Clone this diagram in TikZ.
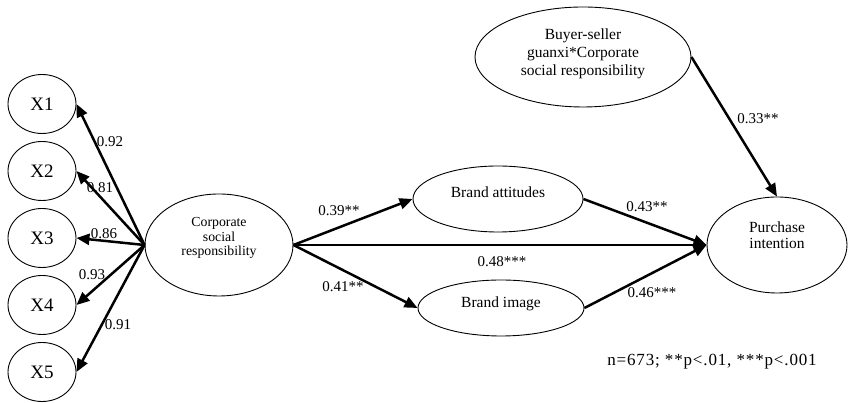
\documentclass[tikz,border=0pt]{standalone}
\usepackage{fontspec}
\setmainfont{Liberation Serif}
\newfontfamily\notefont[LetterSpace=5]{Liberation Serif}
\usetikzlibrary{arrows.meta,shapes.geometric}
\begin{document}
\begin{tikzpicture}[x=1pt,y=1pt,
  oval/.style={draw,ellipse,line width=0.9pt,inner sep=0pt},
  txt/.style={align=center,font=\fontsize{15.5}{17}\selectfont,inner sep=0pt},
  xtxt/.style={font=\fontsize{19}{20}\selectfont,inner sep=0pt},
  lbl/.style={font=\fontsize{15}{17}\selectfont,inner sep=0pt},
  path/.style={line width=2.5pt,-{Triangle[length=13pt,width=11pt]}}]
\useasboundingbox (0,0) rectangle (849,403);
% indicator ellipses
\node[oval,minimum width=68pt,minimum height=59pt] (x1) at (42,299) {};
\node[oval,minimum width=68pt,minimum height=59pt] (x2) at (42,232) {};
\node[oval,minimum width=68pt,minimum height=59pt] (x3) at (42,165) {};
\node[oval,minimum width=68pt,minimum height=59pt] (x4) at (42,98) {};
\node[oval,minimum width=68pt,minimum height=59pt] (x5) at (42,31) {};
\node[xtxt] (x1t) at (x1.center) {X1};
\node[xtxt] (x2t) at (x2.center) {X2};
\node[xtxt] (x3t) at (x3.center) {X3};
\node[xtxt] (x4t) at (x4.center) {X4};
\node[xtxt] (x5t) at (x5.center) {X5};
% latent ellipses
\node[oval,minimum width=148pt,minimum height=102pt] (csr) at (219,158) {};
\node[txt,font=\fontsize{13.8}{14.6}\selectfont] (csrt) at ([yshift=7pt]csr.center) {Corporate\\social\\responsibility};
\node[oval,minimum width=170pt,minimum height=66pt] (ba) at (498,204) {};
\node[txt] (bat) at ([yshift=7pt]ba.center) {Brand attitudes};
\node[oval,minimum width=166pt,minimum height=56pt] (bi) at (501,95) {};
\node[txt] (bit) at ([yshift=4pt]bi.center) {Brand image};
\node[oval,minimum width=140pt,minimum height=96pt] (pi) at (777,158) {};
\node[txt,font=\fontsize{15.5}{16.5}\selectfont] (pit) at ([yshift=10pt]pi.center) {Purchase\\intention};
\node[oval,minimum width=216pt,minimum height=100pt] (bs) at (583,346) {};
\node[txt,font=\fontsize{15.5}{18}\selectfont] (bst) at ([yshift=3pt]bs.center) {Buyer-seller\\guanxi*Corporate\\social responsibility};
% paths
\draw[path] (csr.west) -- (x1.east);
\draw[path] (csr.west) -- (x2.east);
\draw[path] (csr.west) -- (x3.east);
\draw[path] (csr.west) -- (x4.east);
\draw[path] (csr.west) -- (x5.east);
\draw[path] (csr.east) -- (ba.west);
\draw[path] (csr.east) -- (pi.west);
\draw[path] (csr.east) -- (bi.west);
\draw[path] (ba.east) -- (pi.west);
\draw[path] (bi.east) -- (pi.west);
\draw[path] (bs.east) -- (pi.north);
% labels
\node[lbl] (l1) at (110,261) {0.92};
\node[lbl] (l2) at (100,215) {0.81};
\node[lbl] (l3) at (104,169) {0.86};
\node[lbl] (l4) at (92,128) {0.93};
\node[lbl] (l5) at (118,78) {0.91};
\node[lbl] (l6) at (339,192) {0.39**};
\node[lbl] (l7) at (502,141) {0.48***};
\node[lbl] (l8) at (343,116) {0.41**};
\node[lbl] (l9) at (647,196) {0.43**};
\node[lbl] (l10) at (652,110) {0.46***};
\node[lbl] (l11) at (758,284) {0.33**};
\node[lbl,font=\notefont\fontsize{17}{19}\selectfont] (note) at (712,41) {n=673; **p<.01, ***p<.001};
\end{tikzpicture}
\end{document}
